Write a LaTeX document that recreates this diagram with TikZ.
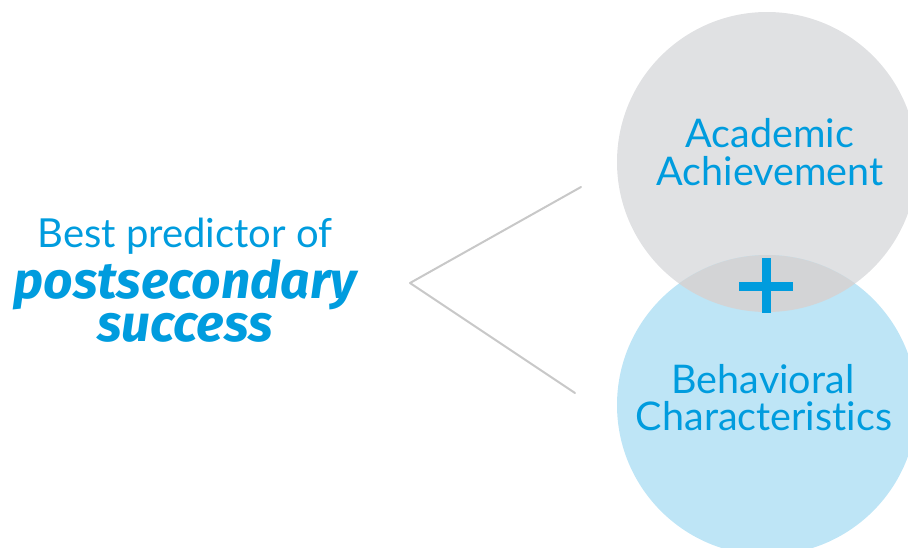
\documentclass[tikz,border=0pt]{standalone}
\usepackage{fontspec}
\setmainfont{Lato}[RawFeature=-liga]
\newfontfamily\boldital{Fira Sans}[ItalicFont={Fira Sans Bold Italic}]
\definecolor{circgray}{HTML}{E0E1E3}
\definecolor{lensgray}{HTML}{D3D4D6}
\definecolor{circblue}{HTML}{BEE5F6}
\definecolor{textblue}{HTML}{009CDE}
\definecolor{linegray}{HTML}{C8C8C8}
\tikzset{
  label text/.style={text=textblue, inner sep=0pt, anchor=base,
    font=\fontsize{39.5}{40}\selectfont},
  lead text/.style={text=textblue, inner sep=0pt, anchor=base,
    font=\fontsize{40}{42}\selectfont},
  strong text/.style={text=textblue, inner sep=0pt, anchor=base, align=center,
    font=\fontsize{51.5}{43}\boldital\itshape},
  branch/.style={draw=linegray, line width=2pt, line cap=round, line join=round},
}
\begin{document}
\begin{tikzpicture}[x=1pt, y=-1pt]
  \useasboundingbox (0,0) rectangle (908,547);
  \begin{scope}
    \clip (0,0) rectangle (908,547);
    % two overlapping circles and their shared lens
    \fill[circgray] (767,162) circle[radius=150];
    \fill[circblue] (767,405) circle[radius=150];
    \begin{scope}
      \clip (767,405) circle[radius=150];
      \fill[lensgray] (767,162) circle[radius=150];
    \end{scope}
  \end{scope}
  % plus sign in the lens
  \fill[textblue] (761.5,258) rectangle (770.5,313);
  \fill[textblue] (739,281.5) rectangle (793,290.5);

  \node[label text] (acad) at (770,147) {Academic};
  \node[label text] (achv) at (770,185) {Achievement};
  \node[label text] (behav) at (763,393) {Behavioral};
  \node[label text] (chars) at (764,430) {Characteristics};

  \node[lead text] (best) at (185,247) {Best predictor of};
  % base anchor of a two-line node sits on its last line
  \node[strong text] (post) at (185,341) {postsecondary\\success};

  % branching connector
  \coordinate (tip) at (410,283);
  \coordinate (upper) at (581,187);
  \coordinate (lower) at (575,393);
  \draw[branch] (upper) -- (tip) -- (lower);
\end{tikzpicture}
\end{document}
